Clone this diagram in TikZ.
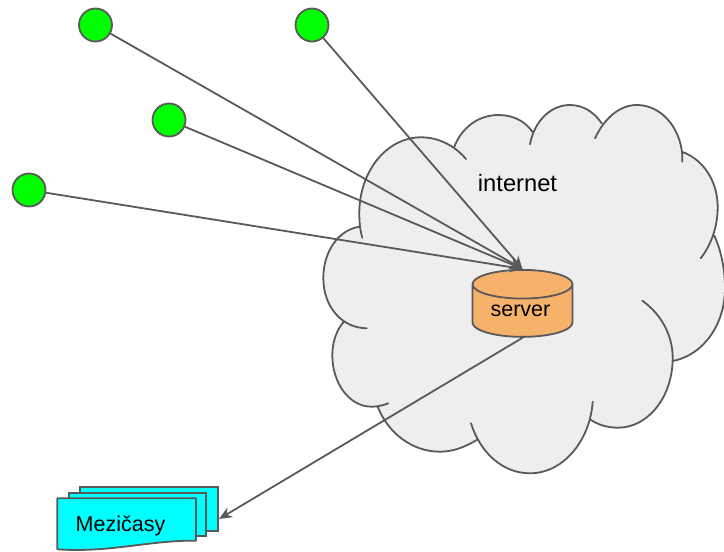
\documentclass[tikz,border=0pt]{standalone}
\usepackage{fontspec}
\setmainfont{Liberation Sans}
\usepackage{xcolor}
\usetikzlibrary{shapes.geometric,arrows.meta}
\definecolor{linegray}{HTML}{595959}
\definecolor{cloudgray}{HTML}{EEEEEE}
\definecolor{serverorange}{HTML}{F6B26B}
\definecolor{clientgreen}{HTML}{00FF00}
\definecolor{sheetcyan}{HTML}{00FFFF}
\tikzset{client/.style={circle,draw=linegray,line width=1.8pt,fill=clientgreen,minimum size=33pt,inner sep=0pt}}
\tikzset{link/.style={draw=linegray,line width=1.8pt}}
\tikzset{sheet/.style={rectangle,draw=linegray,line width=1.8pt,fill=sheetcyan,inner sep=0pt}}
\tikzset{lobe/.style={line width=1.8pt,line cap=round}}
\newcommand{\cloudlobes}{
    (362.3,237.7) .. controls (360,230) and (359.3,222) .. (359.3,213.3) .. controls (359.3,171) and (387,137.3) .. (421,137.3) .. controls (439,137.3) and (455,146) .. (466,159)
    (454.3,146.7) .. controls (462,127) and (479,115) .. (498.3,115) .. controls (513,115) and (525,121) .. (532.3,131.7)
    (530,144.3) .. controls (534,122) and (550,105) .. (570,105) .. controls (583,105) and (594,112) .. (601.7,123.3)
    (595,138.3) .. controls (604,119) and (619,105) .. (637,105) .. controls (660,105) and (680,126) .. (682.3,155) .. controls (682.3,158) and (682.3,160) .. (682.3,161.7)
    (681.7,151.7) .. controls (703,159) and (717.7,181) .. (717.7,207) .. controls (717.7,227) and (711,245) .. (700.7,258.3)
    (714.3,235.7) .. controls (721,250) and (725,269) .. (725,288) .. controls (725,325) and (703,355) .. (673,361)
    (642.3,300.7) .. controls (661,314) and (672.7,335) .. (672.7,358) .. controls (672.7,397) and (648,427.7) .. (618,427.7) .. controls (608,427.7) and (598,425) .. (590,419.3)
    (592.7,401.7) .. controls (590,441) and (563,473.3) .. (530,473.3) .. controls (502,473.3) and (480,452) .. (471,423.3)
    (476.7,440) .. controls (465,447) and (453,451.7) .. (440,451.7) .. controls (412,451.7) and (388,433) .. (377.7,406.7)
    (388.3,403.3) .. controls (383,405.5) and (377,406.7) .. (371.7,406.7) .. controls (349,406.7) and (332.3,383) .. (332.3,355) .. controls (332.3,343) and (336,331) .. (343.3,322.3)
    (366.7,328.3) .. controls (342,328) and (323.3,307) .. (323.3,278) .. controls (323.3,250) and (340,229) .. (360,226.7)
}

\begin{document}
\begin{tikzpicture}[x=1pt,y=-1pt,>={Stealth[length=13pt,width=11pt]}]
    \useasboundingbox (0,0) rectangle (724,552);

    % cloud
    \fill[cloudgray] (362,238) -- (454,147) -- (532,132) -- (602,123) -- (682,152) -- (714,236) -- (673,361) -- (590,419) -- (477,440) -- (378,407) -- (343,322) -- cycle;
    \fill[cloudgray] \cloudlobes;
    \draw[lobe,draw=linegray] \cloudlobes;
    \node (internet) at (517.5,183) {\fontsize{23.7}{26}\selectfont internet};

    \node[client] (c1) at (95.5,25) {};
    \node[client] (c2) at (312,25) {};
    \node[client] (c3) at (169,120) {};
    \node[client] (c4) at (29,190) {};

    \node[cylinder,shape border rotate=90,shape aspect=0.45,draw=linegray,line width=1.8pt,fill=serverorange,minimum width=100pt,minimum height=67pt,inner sep=0pt,font=\fontsize{21.5}{24}\selectfont] (server) at (522.5,311) {\raisebox{-2pt}{server\kern4pt}};

    % sheets
    \node[sheet,minimum width=138pt,minimum height=44pt] (back) at (149,508.7) {};
    \node[sheet,minimum width=137pt,minimum height=43pt] (middle) at (137.5,514.4) {};
    \fill[sheetcyan,draw=linegray,line width=1.8pt,line join=round] (57.3,498.3) -- (196,498.3) -- (196,540.7) .. controls (150,540) and (110,553) .. (57.3,549.3) -- cycle;
    \node (mezicasy) at (120.5,526) {\fontsize{21.5}{24}\selectfont Mezičasy};
    \coordinate (backin) at (219,519);

    \draw [->,link] (c1) to (server.north);
    \draw [->,link] (c2) to (server.north);
    \draw [->,link] (c3) to (server.north);
    \draw [->,link] (c4) to (server.north);
    \draw [->,link] (server.south) to (backin);
\end{tikzpicture}
\end{document}
